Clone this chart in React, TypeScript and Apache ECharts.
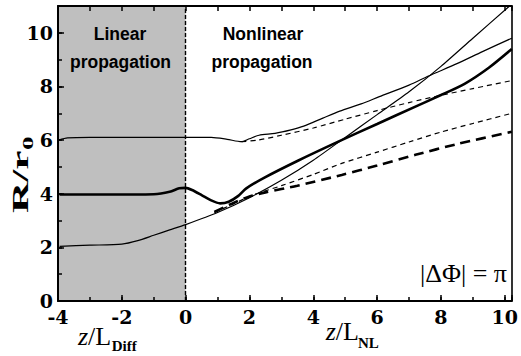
import React, { useEffect, useRef } from "react";
import * as echarts from "echarts";

// ---- data (x = z / L, y = R / r0) ----
const xMin = -4;
const xMax = 10.22;
const yMin = 0;
const yMax = 11;
const xTickLabels = [-4, -2, 0, 2, 4, 6, 8, 10];
const yTickLabels = [0, 2, 4, 6, 8, 10];

const linearRegion = [-4, 0];

const upperSolid: [number, number][] = [
  [-3.98, 6.0], [-3.7, 6.08], [-3, 6.1], [-2, 6.1], [-1, 6.1], [0, 6.1], [0.8, 6.1],
  [1.3, 6.03], [1.75, 5.94], [2.0, 6.05], [2.3, 6.18], [2.8, 6.25], [3.3, 6.38],
  [3.7, 6.52], [4.3, 6.82], [4.83, 7.08], [5.5, 7.35], [6.07, 7.62], [7.0, 8.05],
  [7.61, 8.39], [8.5, 8.85], [9.3, 9.3], [10.22, 9.8],
];

const middleThick: [number, number][] = [
  [-3.95, 3.97], [-3, 3.97], [-2, 3.97], [-1, 3.98], [-0.5, 4.07], [-0.2, 4.2],
  [0, 4.22], [0.2, 4.14], [0.5, 3.95], [0.8, 3.75], [1.08, 3.64], [1.35, 3.7],
  [1.65, 3.92], [1.9, 4.2], [2.47, 4.6], [3.5, 5.22], [4.8, 5.95], [6, 6.6],
  [7.2, 7.25], [8, 7.68], [8.74, 8.1], [9.5, 8.7], [10.22, 9.4],
];

const lowerSolid: [number, number][] = [
  [-3.95, 2.04], [-3, 2.08], [-2, 2.12], [-1.5, 2.25], [-1, 2.45], [-0.5, 2.65],
  [0, 2.85], [1, 3.3], [2, 3.85], [3, 4.5], [4, 5.25], [5, 6.1], [6, 6.95],
  [7, 7.8], [8, 8.75], [9, 9.8], [10.15, 11],
];

const upperDashed: [number, number][] = [
  [1.75, 5.94], [2.26, 6.0], [3, 6.18], [4, 6.45], [5, 6.78], [6, 7.1],
  [7, 7.4], [8, 7.67], [9, 7.92], [10.22, 8.22],
];

const middleDashed: [number, number][] = [
  [0.9, 3.3], [1.5, 3.62], [2.1, 3.95], [3, 4.3], [4, 4.72], [4.89, 5.13],
  [6, 5.55], [7, 5.93], [8, 6.3], [9, 6.62], [10.22, 7.0],
];

const thickDashed: [number, number][] = [
  [0.9, 3.32], [1.5, 3.66], [2.0, 3.9], [2.5, 4.05], [3.5, 4.3], [4.89, 4.7],
  [6, 5.05], [7.2, 5.45], [8.5, 5.85], [10.22, 6.31],
];

const SERIF = '"Liberation Serif", "Times New Roman", serif';
const SANS = '"Liberation Sans", Arial, sans-serif';
const TICKFONT = '"DejaVu Serif", serif';

function isLabel(v: number, list: number[]) {
  return list.some((t) => Math.abs(t - v) < 1e-6);
}

export default function App() {
  const ref = useRef<HTMLDivElement>(null);
  useEffect(() => {
    const chart = echarts.init(ref.current!, null, { renderer: "svg" });
    const tickLabelStyle = {
      fontFamily: TICKFONT,
      fontWeight: "bold" as const,
      fontSize: 19,
      lineHeight: 16,
      color: "#000",
    };
    const baseX = { type: "value" as const, min: xMin, max: xMax, splitLine: { show: false }, z: 10 };
    const baseY = { type: "value" as const, min: yMin, max: yMax, splitLine: { show: false }, z: 10 };
    const tickStyle = { color: "#000", width: 1.5 };
    const line = (data: [number, number][], width: number, type: any) => ({
      type: "line",
      data,
      showSymbol: false,
      smooth: 0.25,
      z: 3,
      lineStyle: { color: "#000", width, type },
    });
    const txt = (x: number, y: number, text: string, extra: any) => ({
      type: "text",
      x,
      y,
      z: 100,
      silent: true,
      style: { text, fill: "#000", align: "left", verticalAlign: "middle", ...extra },
    });
    chart.setOption({
      animation: false,
      backgroundColor: "#fff",
      grid: { left: 58, right: 3, top: 6, bottom: 55 },
      xAxis: [
        {
          ...baseX,
          position: "bottom",
          interval: 2,
          axisLine: { show: true, onZero: false, lineStyle: { color: "#000", width: 2 } },
          axisTick: { show: true, inside: true, length: 6, lineStyle: tickStyle },
          axisLabel: {
            ...tickLabelStyle,
            margin: 8,
            formatter: (v: number) => (isLabel(v, xTickLabels) ? String(Math.round(v)) : ""),
          },
        },
        {
          ...baseX,
          position: "bottom",
          interval: 1,
          axisLine: { show: false, onZero: false },
          axisTick: { show: true, inside: true, length: 4, lineStyle: tickStyle },
          axisLabel: { show: false },
        },
        {
          ...baseX,
          position: "top",
          interval: 1,
          axisLine: { show: true, onZero: false, lineStyle: { color: "#000", width: 2 } },
          axisTick: { show: true, inside: true, length: 5, lineStyle: tickStyle },
          axisLabel: { show: false },
        },
      ],
      yAxis: [
        {
          ...baseY,
          position: "left",
          interval: 2,
          axisLine: { show: true, onZero: false, lineStyle: { color: "#000", width: 2 } },
          axisTick: { show: true, inside: true, length: 6, lineStyle: tickStyle },
          axisLabel: {
            ...tickLabelStyle,
            margin: 5,
            formatter: (v: number) => (isLabel(v, yTickLabels) ? String(Math.round(v)) : ""),
          },
        },
        {
          ...baseY,
          position: "left",
          interval: 1,
          axisLine: { show: false, onZero: false },
          axisTick: { show: true, inside: true, length: 4, lineStyle: tickStyle },
          axisLabel: { show: false },
        },
        {
          ...baseY,
          position: "right",
          interval: 1,
          axisLine: { show: true, onZero: false, lineStyle: { color: "#000", width: 1.6 } },
          axisTick: { show: false },
          axisLabel: { show: false },
        },
      ],
      series: [
        {
          type: "line",
          data: [[linearRegion[0], 0], [linearRegion[1], 0]],
          showSymbol: false,
          lineStyle: { opacity: 0 },
          z: 1,
          markArea: {
            silent: true,
            itemStyle: { color: "#bfbfbf" },
            data: [[{ xAxis: linearRegion[0] }, { xAxis: linearRegion[1] }]],
          },
          markLine: {
            silent: true,
            symbol: "none",
            label: { show: false },
            lineStyle: { color: "#000", width: 1.4, type: [4, 2] },
            data: [{ xAxis: linearRegion[1] }],
          },
        },
        line(upperSolid, 1.2, "solid"),
        line(middleThick, 2.6, "solid"),
        line(lowerSolid, 1.2, "solid"),
        line(upperDashed, 1.2, [5, 4]),
        line(middleDashed, 1.2, [5, 4]),
        line(thickDashed, 2.6, [10, 6]),
      ],
      graphic: [
        txt(120, 34, "Linear", { fontFamily: SANS, fontWeight: "bold", fontSize: 17.5, align: "center" }),
        txt(120.5, 62, "propagation", { fontFamily: SANS, fontWeight: "bold", fontSize: 17.5, align: "center" }),
        txt(263, 34, "Nonlinear", { fontFamily: SANS, fontWeight: "bold", fontSize: 17.5, align: "center" }),
        txt(262, 62, "propagation", { fontFamily: SANS, fontWeight: "bold", fontSize: 17.5, align: "center" }),
        txt(507, 273, "|ΔΦ| = π", { fontFamily: SERIF, fontSize: 26, align: "right" }),
        {
          type: "group",
          x: 20,
          y: 172,
          z: 100,
          rotation: Math.PI / 2,
          scaleX: 1.8,
          silent: true,
          children: [
            { type: "text", x: -22.8, y: 0, z: 100, style: { text: "R/r", fontFamily: SERIF, fontWeight: "bold", fontSize: 24, fill: "#000", align: "left", verticalAlign: "middle" } },
            { type: "text", x: 12.2, y: 8, z: 100, style: { text: "0", fontFamily: SERIF, fontWeight: "bold", fontSize: 15, fill: "#000", align: "left", verticalAlign: "middle" } },
          ],
        },
        txt(78, 336.2, "z", { fontFamily: SERIF, fontStyle: "italic", fontSize: 26 }),
        txt(88.1, 336.2, "/L", { fontFamily: SERIF, fontSize: 26 }),
        txt(111.7, 345.9, "Diff", { fontFamily: SERIF, fontWeight: "bold", fontSize: 15 }),
        txt(325.7, 331.2, "z", { fontFamily: SERIF, fontStyle: "italic", fontSize: 26 }),
        txt(335.8, 331.2, "/L", { fontFamily: SERIF, fontSize: 26 }),
        txt(358, 342.9, "NL", { fontFamily: SERIF, fontWeight: "bold", fontSize: 15 }),
      ],
    });
    return () => chart.dispose();
  }, []);
  return (
    <div
      ref={ref}
      style={{ position: "absolute", left: 0, top: 0, width: 521, height: 356, background: "#fff" }}
    />
  );
}
